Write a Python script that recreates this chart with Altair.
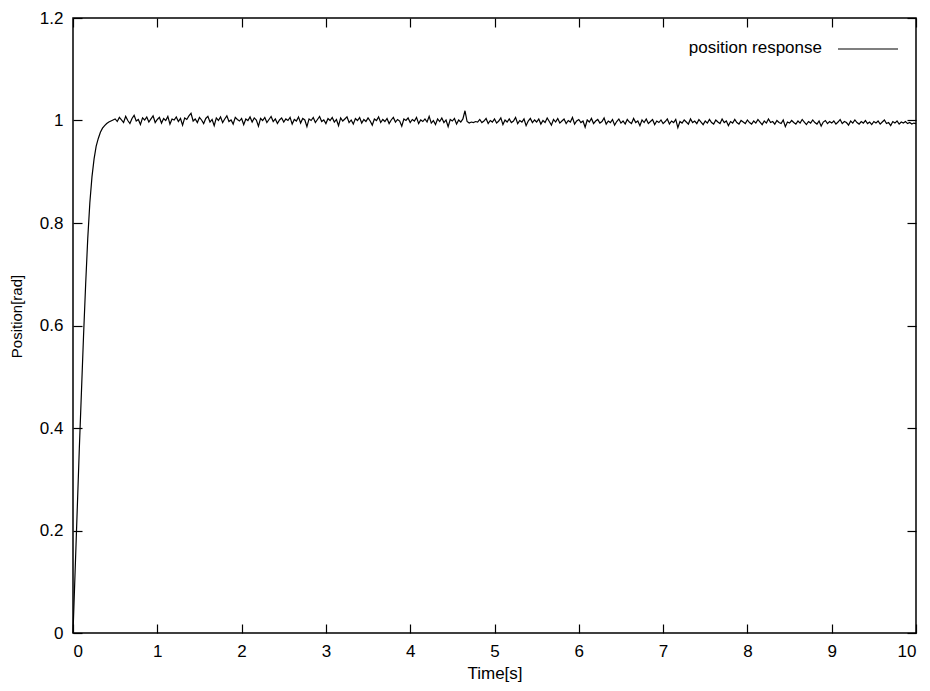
import altair as alt
import pandas as pd

# ---- data ----
rise_time = [0.0, 0.025, 0.05, 0.075, 0.1, 0.125, 0.15, 0.175, 0.2, 0.225,
             0.25, 0.275, 0.3, 0.325, 0.35, 0.375, 0.4, 0.425, 0.45, 0.475]
rise_pos = [0.0, 0.12, 0.24, 0.36, 0.47, 0.58, 0.68, 0.77, 0.84, 0.89,
            0.925, 0.95, 0.965, 0.977, 0.985, 0.99, 0.994, 0.997, 0.999, 1.001]

# plateau, sampled every 0.025 s from 0.5 s to 10.0 s
plateau_pos = [
    1.003, 0.998, 1.006, 1.001, 0.996, 1.008, 1.000, 0.994, 1.004, 1.010, 0.999, 1.002, 0.992, 1.005, 1.001, 1.007, 0.997, 1.003, 1.009, 0.996,
    1.002, 1.006, 0.995, 1.004, 1.000, 1.008, 0.993, 1.003, 1.001, 1.007, 0.998, 1.004, 0.991, 1.005, 1.002, 1.009, 1.014, 0.999, 1.003, 0.996,
    1.006, 1.001, 0.994, 1.004, 1.008, 0.997, 1.002, 0.990, 1.005, 1.000, 1.007, 0.996, 1.003, 1.009, 0.998, 1.001, 0.993, 1.006, 1.002, 0.999,
    1.004, 0.992, 1.003, 1.000, 1.007, 0.997, 1.005, 1.001, 0.989, 1.004, 1.000, 1.006, 0.996, 1.002, 1.008, 0.998, 1.003, 0.994, 1.001, 1.005,
    0.997, 1.003, 1.000, 1.006, 0.993, 1.002, 0.999, 1.007, 0.995, 1.004, 1.001, 0.988, 1.003, 1.000, 1.006, 0.996, 1.002, 1.008, 0.998, 1.001,
    0.994, 1.004, 1.000, 1.006, 0.997, 1.002, 0.990, 1.005, 0.999, 1.003, 1.007, 0.996, 1.001, 0.993, 1.004, 1.000, 1.006, 0.995, 1.002, 0.998,
    1.005, 0.999, 0.991, 1.003, 1.000, 1.007, 0.996, 1.002, 0.998, 1.004, 0.994, 1.001, 1.006, 0.997, 1.002, 0.999, 0.989, 1.003, 1.000, 1.005,
    0.996, 1.002, 0.999, 1.006, 0.994, 1.001, 0.998, 1.003, 0.997, 1.008, 0.995, 1.000, 0.992, 1.003, 0.998, 1.005, 0.996, 1.001, 0.988, 1.002,
    0.999, 1.004, 0.993, 1.001, 0.997, 1.003, 1.019, 0.998, 0.995, 0.997, 0.996, 0.998, 0.997, 1.002, 0.996, 0.999, 1.004, 0.994, 1.000, 0.997,
    1.003, 0.995, 0.999, 1.005, 0.992, 1.001, 0.997, 1.003, 0.996, 0.999, 1.006, 0.994, 1.000, 0.997, 1.003, 0.990, 0.999, 1.004, 0.996, 1.001,
    0.997, 1.003, 0.993, 1.000, 0.996, 1.005, 0.998, 0.991, 1.002, 0.997, 1.004, 0.995, 0.999, 1.003, 0.994, 1.000, 0.997, 1.006, 0.993, 0.999,
    1.002, 0.996, 0.999, 0.987, 1.001, 0.997, 1.004, 0.994, 0.999, 1.002, 0.995, 0.998, 1.005, 0.993, 0.999, 0.996, 1.002, 0.991, 0.998, 1.003,
    0.995, 0.999, 0.993, 1.002, 0.997, 0.994, 1.004, 0.996, 0.999, 0.990, 1.001, 0.996, 1.003, 0.994, 0.998, 1.002, 0.992, 0.999, 0.996, 1.001,
    0.994, 0.998, 1.003, 0.993, 0.999, 0.996, 1.002, 0.986, 0.998, 0.995, 1.001, 0.997, 0.993, 1.003, 0.996, 0.999, 0.994, 1.002, 0.997, 0.992,
    0.999, 0.995, 1.002, 0.996, 0.993, 1.001, 0.997, 0.994, 1.003, 0.996, 0.999, 0.990, 0.998, 0.995, 1.002, 0.996, 0.993, 1.000, 0.997, 0.994,
    1.001, 0.996, 0.993, 0.999, 0.995, 1.002, 0.997, 0.992, 0.999, 0.995, 1.003, 0.996, 0.998, 0.993, 1.000, 0.996, 0.994, 1.001, 0.988, 0.997,
    0.995, 1.000, 0.996, 0.993, 0.999, 0.995, 1.002, 0.997, 0.992, 0.998, 0.995, 1.001, 0.996, 0.993, 0.999, 0.989, 0.997, 1.000, 0.994, 0.998,
    0.995, 0.999, 0.993, 0.997, 1.002, 0.994, 0.998, 0.996, 0.991, 0.999, 0.995, 1.001, 0.996, 0.993, 0.998, 0.995, 1.000, 0.994, 0.997, 0.992,
    0.998, 0.995, 0.999, 0.993, 0.997, 1.001, 0.994, 0.996, 0.990, 0.998, 0.995, 0.999, 0.993, 0.997, 0.995, 0.998, 0.994, 0.996, 0.993, 0.995,
    0.994,
]
plateau_time = [round(0.5 + 0.025 * i, 3) for i in range(len(plateau_pos))]

x_ticks = [0, 1, 2, 3, 4, 5, 6, 7, 8, 9, 10]
y_ticks = [0, 0.2, 0.4, 0.6, 0.8, 1.0, 1.2]
legend_label = "position response"
x_title = "Time[s]"
y_title = "Position[rad]"

df = pd.DataFrame({"t": rise_time + plateau_time, "pos": rise_pos + plateau_pos})

FONT = "Liberation Sans"
W, H = 843, 615
TICK = 9

xscale = alt.Scale(domain=[0, 10], nice=False, zero=False)
yscale = alt.Scale(domain=[0, 1.2], nice=False)

main = alt.Chart(df).mark_line(color="black", strokeWidth=1.2).encode(
    x=alt.X("t:Q", scale=xscale, title=x_title,
            axis=alt.Axis(orient="bottom", values=x_ticks, format="d",
                          offset=-TICK, tickSize=TICK, domain=False,
                          labelPadding=10, titlePadding=6)),
    y=alt.Y("pos:Q", scale=yscale, title=y_title,
            axis=alt.Axis(orient="left", values=y_ticks, format="~r",
                          offset=-TICK, tickSize=TICK, domain=False,
                          labelPadding=10, titlePadding=15,
                          titleFontSize=15, titleY=298)),
)

mirror = alt.Chart(df).mark_line(strokeOpacity=0).encode(
    x=alt.X("t:Q", scale=xscale, title=None,
            axis=alt.Axis(orient="top", values=x_ticks, labels=False,
                          offset=-TICK, tickSize=TICK, domain=False)),
    y=alt.Y("pos:Q", scale=yscale, title=None,
            axis=alt.Axis(orient="right", values=y_ticks, labels=False,
                          offset=-TICK, tickSize=TICK, domain=False)),
)

legend_text = alt.Chart(pd.DataFrame({"label": [legend_label]})).mark_text(
    align="right", baseline="middle", font=FONT, fontSize=17, color="black"
).encode(x=alt.value(749), y=alt.value(30), text="label:N")

legend_line = alt.Chart(pd.DataFrame({"label": [legend_label]})).mark_rule(
    color="black", strokeWidth=1.2
).encode(x=alt.value(765), x2=alt.value(825), y=alt.value(31))

chart = alt.layer(main, mirror, legend_text, legend_line).resolve_axis(
    x="independent", y="independent"
).properties(
    width=W, height=H,
    autosize=alt.AutoSizeParams(type="none"),
    padding={"left": 65, "top": 10, "right": 6, "bottom": 50},
    background="white",
).configure_view(
    stroke="black", strokeWidth=1.5
).configure_axis(
    labelFont=FONT, titleFont=FONT, labelFontSize=17, titleFontSize=17,
    labelColor="black", titleColor="black", titleFontWeight="normal",
    tickColor="black", tickWidth=1.2, grid=False,
)

chart.save("out.html", embed_options={"renderer": "svg", "actions": False})
